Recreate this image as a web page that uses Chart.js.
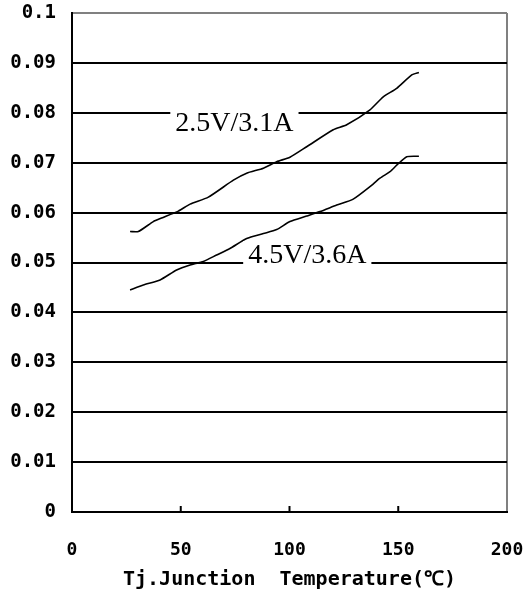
<!DOCTYPE html>
<html lang="en">
<head>
  <meta charset="UTF-8" />
  <title>Tj Junction Temperature</title>
  <script src="https://cdn.jsdelivr.net/npm/chart.js"></script>
  <style>
    html, body {
      margin: 0;
      padding: 0;
      background: #fff;
    }
    #wrap {
      width: 526px;
      height: 599px;
    }
  </style>
</head>
<body>
  <div id="wrap">
    <canvas id="chart" width="526" height="599"></canvas>
  </div>

  <script>
    // values
    const temp25 = [26.7, 30.5, 37.4, 41.2, 48.9, 54.3, 62.7, 74.2, 80.3, 88.0, 94.1, 100.2, 107.9, 120.1, 126.3, 137.0, 143.1, 149.3, 156.2, 159.5];
    const res25 = [0.0562, 0.0562, 0.0582, 0.0589, 0.0603, 0.0617, 0.0631, 0.0665, 0.0679, 0.0689, 0.0702, 0.0711, 0.0732, 0.0766, 0.0776, 0.0806, 0.0832, 0.0849, 0.0876, 0.0881];

    const temp45 = [26.7, 32.8, 40.5, 48.1, 54.3, 60.4, 66.5, 72.6, 80.3, 88.0, 94.1, 100.2, 107.9, 114.0, 121.7, 129.3, 137.0, 141.6, 146.2, 149.3, 153.9, 159.5];
    const res45 = [0.0445, 0.0455, 0.0465, 0.0485, 0.0495, 0.0502, 0.0515, 0.0528, 0.0548, 0.0558, 0.0566, 0.0582, 0.0593, 0.0602, 0.0615, 0.0627, 0.0652, 0.0669, 0.0682, 0.0695, 0.0712, 0.0713];

    const seriesNames = ["2.5V/3.1A", "4.5V/3.6A"];
    // where each curve name sits, in data units (left x, baseline y)
    const labelX = [47.5, 81];
    const labelY = [0.0763, 0.0499];

    const xTicks = [0, 50, 100, 150, 200];
    const xTitle = "Tj.Junction  Temperature(\u2103)";

    const toPoints = (xs, ys) => xs.map((x, i) => ({ x: x, y: ys[i] }));

    // curve names with a white box that breaks the grid line
    const curveLabels = {
      id: 'curveLabels',
      afterDatasetsDraw(chart) {
        const { ctx, scales } = chart;
        ctx.save();
        ctx.font = '28px "Liberation Serif", "Times New Roman", serif';
        ctx.textBaseline = 'alphabetic';
        seriesNames.forEach((name, i) => {
          const px = scales.x.getPixelForValue(labelX[i]);
          const py = scales.y.getPixelForValue(labelY[i]);
          const w = ctx.measureText(name).width;
          ctx.fillStyle = '#fff';
          ctx.fillRect(px - 5, py - 22, w + 10, 26);
          ctx.fillStyle = '#000';
          ctx.fillText(name, px, py);
        });
        ctx.restore();
      }
    };

    // small inward tick marks on the x axis
    const innerTicks = {
      id: 'innerTicks',
      afterDraw(chart) {
        const { ctx, scales, chartArea } = chart;
        ctx.save();
        ctx.strokeStyle = '#000';
        ctx.lineWidth = 2;
        xTicks.slice(1, -1).forEach(v => {
          const px = scales.x.getPixelForValue(v);
          ctx.beginPath();
          ctx.moveTo(px, chartArea.bottom);
          ctx.lineTo(px, chartArea.bottom - 6);
          ctx.stroke();
        });
        ctx.restore();
      }
    };

    new Chart(document.getElementById('chart'), {
      type: 'line',
      data: {
        datasets: [
          {
            label: seriesNames[0],
            data: toPoints(temp25, res25),
            borderColor: '#000',
            borderWidth: 1.6,
            pointRadius: 0,
            tension: 0.2
          },
          {
            label: seriesNames[1],
            data: toPoints(temp45, res45),
            borderColor: '#000',
            borderWidth: 1.6,
            pointRadius: 0,
            tension: 0.2
          }
        ]
      },
      options: {
        responsive: false,
        animation: false,
        layout: {
          padding: { top: 13, right: 19, bottom: 0, left: 0 }
        },
        plugins: {
          legend: { display: false },
          tooltip: { enabled: false }
        },
        scales: {
          x: {
            type: 'linear',
            min: 0,
            max: 200,
            afterBuildTicks: s => { s.ticks = xTicks.map(v => ({ value: v })); },
            afterFit: s => { s.height = 87; s.paddingLeft = 0; s.paddingRight = 0; },
            border: { display: true, color: '#000', width: 2 },
            grid: {
              drawTicks: false,
              lineWidth: 2,
              color: c => (c.tick && c.tick.value === 200) ? '#808080' : 'rgba(0,0,0,0)'
            },
            ticks: {
              padding: 28,
              color: '#000',
              font: { family: '"DejaVu Sans Mono", monospace', size: 18, weight: 'bold' }
            },
            title: {
              display: true,
              text: xTitle,
              color: '#000',
              font: { family: '"DejaVu Sans Mono", monospace', size: 20, weight: 'bold' },
              padding: { top: 0, bottom: 7 }
            }
          },
          y: {
            min: 0,
            max: 0.1,
            afterFit: s => { s.width = 72; s.paddingTop = 0; s.paddingBottom = 0; },
            border: { display: true, color: '#000', width: 2 },
            grid: {
              drawTicks: false,
              lineWidth: 2,
              color: c => (c.tick && Math.abs(c.tick.value - 0.1) < 1e-9) ? '#808080' : '#000'
            },
            ticks: {
              stepSize: 0.01,
              padding: 16,
              color: '#000',
              font: { family: '"DejaVu Sans Mono", monospace', size: 19, weight: 'bold' },
              callback: v => String(Number(v.toFixed(2)))
            }
          }
        }
      },
      plugins: [curveLabels, innerTicks]
    });
  </script>
</body>
</html>
